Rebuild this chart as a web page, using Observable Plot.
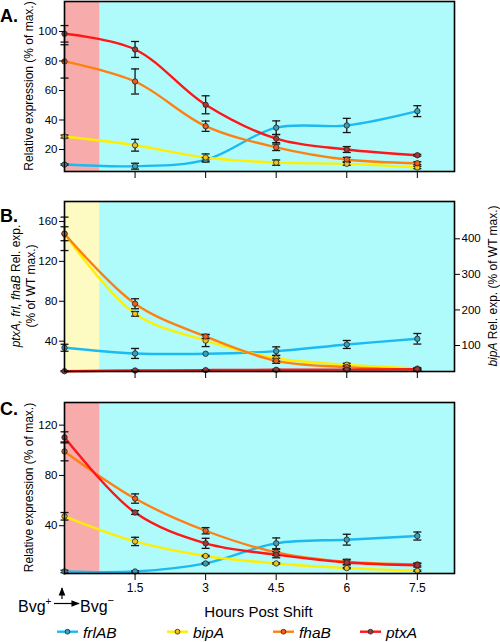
<!DOCTYPE html>
<html><head><meta charset="utf-8">
<script src="https://cdn.jsdelivr.net/npm/d3@7"></script>
<script src="https://cdn.jsdelivr.net/npm/@observablehq/plot@0.6"></script>
<style>
body{margin:0;background:#fff;font-family:"Liberation Sans",Arial,Helvetica,sans-serif;}
#wrap{position:relative;width:500px;height:642px;overflow:hidden;background:#fff;}
#wrap > svg{position:absolute;left:0;}
</style></head><body><div id="wrap"></div>
<script>
// ---------- data ----------
const hours = [0, 1.5, 3, 4.5, 6, 7.5];
const xTicks = [1.5, 3, 4.5, 6, 7.5];
const xMax = 8.29;
const shiftEnd = 0.75;
const genes = ["frlAB", "bipA", "fhaB", "ptxA"];
const lineColors = ["#1bbaf2", "#ffee00", "#ff8012", "#ff1616"];
const dotColors = ["#3b9fb6", "#f0c21e", "#ee5f1e", "#a23838"];

// Panel A (wild type, % of max.)
const aFrlAB = [9.8, 8.7, 13.0, 34.8, 36.3, 46.0];
const aFrlABErr = [0.5, 2.0, 1.5, 4.6, 4.8, 3.7];
const aBipA = [28.8, 22.9, 14.6, 11.1, 10.3, 7.8];
const aBipAErr = [1.0, 4.0, 2.4, 1.8, 1.0, 0.8];
const aFhaB = [79.7, 66.1, 35.8, 21.5, 13.2, 10.7];
const aFhaBErr = [11.3, 8.5, 3.5, 2.2, 1.5, 1.0];
const aPtxA = [98.4, 87.8, 50.3, 27.4, 20.0, 16.1];
const aPtxAErr = [5.6, 5.4, 6.1, 2.7, 2.0, 0.6];
const aDomain = [5.1, 120.3];
const aTicks = [20, 40, 60, 80, 100];

// Panel B (% of WT max.; bipA on right axis)
const bFrlAB = [33.4, 27.7, 27.4, 30.0, 36.7, 42.4];
const bFrlABErr = [3.5, 5.0, 0, 4.3, 4.0, 5.3];
const bBipA = [414, 189, 114, 64, 46, 35];
const bBipAErr = [47, 6.5, 17, 8, 4, 3];
const bFhaB = [147.7, 77.5, 44.7, 20.3, 14.0, 11.5];
const bFhaBErr = [7, 5, 2, 2.5, 1.5, 1];
const bPtxA = [9.9, 10.6, 11.0, 11.3, 11.5, 11.8];
const bPtxAErr = [0.5, 0.5, 0.5, 0.5, 0.5, 0.5];
const bDomain = [9.6, 180];
const bTicks = [40, 80, 120, 160];
const bRightDomain = [26.9, 504.9];
const bRightTicks = [100, 200, 300, 400];

// Panel C (% of max.)
const cFrlAB = [3.6, 3.6, 10.0, 26.0, 28.9, 31.8];
const cFrlABErr = [1, 0.5, 0.5, 4.3, 4.3, 3.2];
const cBipA = [47.5, 27.5, 15.9, 10.0, 6.3, 4.2];
const cBipAErr = [3, 3.3, 0.5, 0.5, 0.5, 0.5];
const cFhaB = [99.1, 61.6, 36.0, 18.8, 11.3, 9.2];
const cFhaBErr = [7.5, 3.7, 2.5, 2.5, 2, 1];
const cPtxA = [110.3, 50.5, 26.0, 17.0, 10.8, 8.6];
const cPtxAErr = [4.4, 1.5, 4, 2.5, 2, 1.5];
const cDomain = [2, 138];
const cTicks = [40, 80, 120];

// ---------- helpers ----------
const lineColorOf = Object.fromEntries(genes.map((g, i) => [g, lineColors[i]]));
const dotColorOf = Object.fromEntries(genes.map((g, i) => [g, dotColors[i]]));
const toLeft = r => bDomain[0] + (r - bRightDomain[0]) * (bDomain[1] - bDomain[0]) / (bRightDomain[1] - bRightDomain[0]);
const fromLeft = l => bRightDomain[0] + (l - bDomain[0]) * (bRightDomain[1] - bRightDomain[0]) / (bDomain[1] - bDomain[0]);
const capSymbol = {draw(ctx) { ctx.moveTo(-4, 0); ctx.lineTo(4, 0); }};
const FONT = "'Liberation Sans', Arial, Helvetica, sans-serif";

function rowsFor(series, transforms) {
  const rows = [];
  genes.forEach((g, gi) => {
    const [vals, errs] = series[gi];
    const t = (transforms && transforms[gi]) || (v => v);
    hours.forEach((h, i) => rows.push({gene: g, x: h, y: t(vals[i]), lo: t(vals[i] - errs[i]), hi: t(vals[i] + errs[i]), e: errs[i]}));
  });
  return rows;
}

function makePanel({rows, bandColor, yDomain, yTicks, top, height, marginTop, marginBottom, xLabels, right}) {
  const withErr = rows.filter(d => d.e > 0);
  const caps = withErr.flatMap(d => [{x: d.x, y: d.lo}, {x: d.x, y: d.hi}]);
  const marks = [
    Plot.rect([{x1: 0, x2: xMax}], {x1: "x1", x2: "x2", y1: yDomain[0], y2: yDomain[1], fill: "#affbfb"}),
    Plot.rect([{x1: 0, x2: shiftEnd}], {x1: "x1", x2: "x2", y1: yDomain[0], y2: yDomain[1], fill: bandColor}),
    Plot.line(rows, {x: "x", y: "y", z: "gene", stroke: d => lineColorOf[d.gene], strokeWidth: 2.4, curve: "catmull-rom"}),
    Plot.ruleX(withErr, {x: "x", y1: "lo", y2: "hi", stroke: "#151515", strokeWidth: 1.3}),
    Plot.dot(caps, {x: "x", y: "y", symbol: capSymbol, r: 4, stroke: "#151515", strokeWidth: 1.3, fill: "none"}),
    Plot.dot(rows, {x: "x", y: "y", r: 2.7, fill: d => dotColorOf[d.gene], stroke: "#222", strokeWidth: 0.8}),
    Plot.axisY(yTicks, {tickSize: 5, tickPadding: 2, label: null}),
    Plot.axisX(xTicks, {tickSize: 7, tickPadding: 3, label: null, tickFormat: xLabels ? (d => String(d)) : (() => ""), fontSize: 12})
  ];
  if (right) marks.push(Plot.axisY(right.map(toLeft), {anchor: "right", tickSize: 5, tickPadding: 2, label: null, tickFormat: d => String(Math.round(fromLeft(d)))}));
  marks.push(Plot.frame({stroke: "#000", strokeWidth: 1.6}));
  const svg = Plot.plot({
    width: 500, height, marginLeft: 64, marginRight: 46, marginTop, marginBottom,
    x: {domain: [0, xMax]}, y: {domain: yDomain},
    color: {type: "identity"},
    style: {fontFamily: FONT, fontSize: "11.5px", background: "transparent", color: "#000"},
    marks
  });
  svg.style.top = top + "px";
  document.getElementById("wrap").appendChild(svg);
  return d3.select(svg);
}

function vLabel(sel, x, y, parts) {
  const t = sel.append("text").attr("transform", `translate(${x},${y}) rotate(-90)`)
    .attr("text-anchor", "middle").attr("dy", "0.35em")
    .attr("font-family", FONT).attr("font-size", 12).attr("fill", "#000");
  parts.forEach(([s, it]) => t.append("tspan").attr("font-style", it ? "italic" : "normal").text(s));
}

// ---------- panels ----------
const A = makePanel({
  rows: rowsFor([[aFrlAB, aFrlABErr], [aBipA, aBipAErr], [aFhaB, aFhaBErr], [aPtxA, aPtxAErr]]),
  bandColor: "#f8abab", yDomain: aDomain, yTicks: aTicks, top: 0, height: 185, marginTop: 1, marginBottom: 14, xLabels: false
});
vLabel(A, 29, 86, [["Relative expression (% of max.)", false]]);

const B = makePanel({
  rows: rowsFor([[bFrlAB, bFrlABErr], [bBipA, bBipAErr], [bFhaB, bFhaBErr], [bPtxA, bPtxAErr]], [null, toLeft, null, null]),
  bandColor: "#fefbc2", yDomain: bDomain, yTicks: bTicks, top: 190, height: 195, marginTop: 11, marginBottom: 14, xLabels: false, right: bRightTicks
});
vLabel(B, 16, 96, [["ptxA, frl, fhaB", true], [" Rel. exp.", false]]);
vLabel(B, 31, 96, [["(% of WT max.)", false]]);
vLabel(B, 493, 96, [["bipA", true], [" Rel. exp. (% of WT max.)", false]]);

const C = makePanel({
  rows: rowsFor([[cFrlAB, cFrlABErr], [cBipA, cBipAErr], [cFhaB, cFhaBErr], [cPtxA, cPtxAErr]]),
  bandColor: "#f8abab", yDomain: cDomain, yTicks: cTicks, top: 395, height: 208, marginTop: 7, marginBottom: 30, xLabels: true
});
vLabel(C, 29, 92.5, [["Relative expression (% of max.)", false]]);

// ---------- overlay text: panel letters, shift annotation, axis title, legend ----------
const ov = d3.select("#wrap").append("svg").attr("width", 500).attr("height", 642).style("top", "0px")
  .attr("font-family", FONT);
[["A.", 21.5], ["B.", 221.5], ["C.", 415]].forEach(([s, y]) =>
  ov.append("text").attr("x", 0).attr("y", y).attr("font-size", 18).attr("font-weight", "bold").text(s));

const defs = ov.append("defs");
defs.append("marker").attr("id", "ah").attr("viewBox", "0 0 10 10").attr("refX", 9).attr("refY", 5)
  .attr("markerWidth", 7).attr("markerHeight", 7).attr("orient", "auto-start-reverse")
  .append("path").attr("d", "M0,1 L10,5 L0,9 z").attr("fill", "#000");
const bv = ov.append("text").attr("x", 18).attr("y", 611.5).attr("font-size", 16);
bv.append("tspan").text("Bvg");
bv.append("tspan").attr("font-size", 10).attr("dy", -7).text("+");
ov.append("line").attr("x1", 54).attr("x2", 79).attr("y1", 603.5).attr("y2", 603.5).attr("stroke", "#000").attr("stroke-width", 1.2).attr("marker-end", "url(#ah)");
ov.append("line").attr("x1", 62).attr("x2", 62).attr("y1", 599).attr("y2", 588).attr("stroke", "#000").attr("stroke-width", 1.2).attr("marker-end", "url(#ah)");
const bv2 = ov.append("text").attr("x", 80).attr("y", 611.5).attr("font-size", 16);
bv2.append("tspan").text("Bvg");
bv2.append("tspan").attr("font-size", 11).attr("dy", -8).text("−");

ov.append("text").attr("x", 258.5).attr("y", 616.5).attr("text-anchor", "middle").attr("font-size", 15).text("Hours Post Shift");

const legendX = [57, 167, 273, 360];
genes.forEach((g, i) => {
  const x0 = legendX[i];
  ov.append("line").attr("x1", x0).attr("x2", x0 + 21).attr("y1", 631.7).attr("y2", 631.7).attr("stroke", lineColors[i]).attr("stroke-width", 2.4);
  ov.append("circle").attr("cx", x0 + 10.5).attr("cy", 631.7).attr("r", 2.4).attr("fill", dotColors[i]).attr("stroke", "#222").attr("stroke-width", 0.8);
  ov.append("text").attr("x", x0 + 26).attr("y", 637.5).attr("font-size", 15.5).attr("font-style", "italic").text(g);
});
</script></body></html>
